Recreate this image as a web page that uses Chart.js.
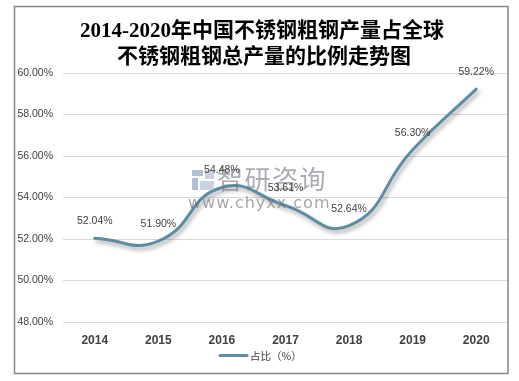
<!DOCTYPE html>
<html>
<head>
<meta charset="utf-8">
<script src="https://cdn.jsdelivr.net/npm/chart.js@4"></script>
<style>
html,body{margin:0;padding:0;background:#fff;}
#wrap{position:relative;width:519px;height:381px;}
</style>
</head>
<body>
<div id="wrap"><canvas id="c" width="519" height="381"></canvas></div>
<script>
const categories = ['2014','2015','2016','2017','2018','2019','2020'];
const shareValues = [52.04, 51.90, 54.48, 53.61, 52.64, 56.30, 59.22];
const seriesName = '占比（%）';
const titleLines = ['2014-2020年中国不锈钢粗钢产量占全球', '不锈钢粗钢总产量的比例走势图'];
const yMin = 48, yMax = 60, yStep = 2;

const lineColor = '#5b8da5';
const textColor = '#404040';

const shadowPlugin = {
  id: 'shadow',
  beforeDatasetDraw(chart) {
    const ctx = chart.ctx;
    ctx.save();
    ctx.shadowColor = 'rgba(0,0,0,0.35)';
    ctx.shadowBlur = 4;
    ctx.shadowOffsetX = 2;
    ctx.shadowOffsetY = 3;
  },
  afterDatasetDraw(chart) {
    chart.ctx.restore();
  }
};

const decorPlugin = {
  id: 'decor',
  afterDraw(chart) {
    const ctx = chart.ctx;
    ctx.save();
    // watermark
    ctx.globalAlpha = 0.6;
    ctx.fillStyle = '#7f95b8';
    ctx.fillRect(192, 170, 11, 6);
    ctx.fillRect(192, 178, 6, 12);
    ctx.fillStyle = '#a3b4cc';
    ctx.fillRect(205, 170, 9, 9);
    ctx.fillRect(200, 181, 14, 9);
    ctx.fillStyle = '#6f7780';
    ctx.font = '26px "Noto Sans CJK SC"';
    ctx.textBaseline = 'middle';
    ctx.textAlign = 'left';
    ctx.letterSpacing = '1.5px';
    ctx.fillText('智研咨询', 217, 179);
    ctx.fillStyle = '#6a6a6a';
    ctx.font = '16px "DejaVu Sans"';
    ctx.letterSpacing = '1px';
    ctx.fillText('www.chyxx.com', 188, 204);
    ctx.letterSpacing = '0px';
    ctx.globalAlpha = 1;

    // data labels
    const meta = chart.getDatasetMeta(0);
    ctx.fillStyle = textColor;
    ctx.font = '10.5px "Liberation Sans"';
    ctx.textAlign = 'center';
    ctx.textBaseline = 'middle';
    meta.data.forEach((pt, i) => {
      ctx.fillText(shareValues[i].toFixed(2) + '%', pt.x, pt.y - 17);
    });

    // title
    ctx.fillStyle = '#000';
    ctx.font = 'bold 21px "Liberation Serif", "Noto Sans CJK SC"';
    ctx.fillText(titleLines[0], 262, 32);
    ctx.fillText(titleLines[1], 264, 58);

    // legend
    ctx.strokeStyle = lineColor;
    ctx.lineWidth = 3;
    ctx.lineCap = 'round';
    ctx.beginPath();
    ctx.moveTo(220, 355.5);
    ctx.lineTo(247, 355.5);
    ctx.stroke();
    ctx.fillStyle = textColor;
    ctx.font = '10.5px "Noto Sans CJK SC"';
    ctx.textAlign = 'left';
    ctx.fillText(seriesName, 250, 356);

    // frame
    ctx.strokeStyle = '#868686';
    ctx.lineWidth = 1.5;
    ctx.lineCap = 'butt';
    ctx.strokeRect(14.5, 6.5, 493.5, 367);
    ctx.restore();
  }
};

new Chart(document.getElementById('c'), {
  type: 'line',
  data: {
    labels: categories,
    datasets: [{
      label: seriesName,
      data: shareValues,
      borderColor: lineColor,
      backgroundColor: lineColor,
      borderWidth: 3,
      pointRadius: 0,
      tension: 0.5,
      borderCapStyle: 'round',
      fill: false
    }]
  },
  options: {
    responsive: false,
    animation: false,
    devicePixelRatio: 1,
    layout: { padding: { left: 0, right: 11, top: 73, bottom: 0 } },
    plugins: {
      legend: { display: false },
      title: { display: false },
      tooltip: { enabled: false }
    },
    scales: {
      x: {
        offset: true,
        grid: { display: false, drawTicks: false },
        border: { display: false },
        ticks: {
          color: textColor,
          font: { family: 'Liberation Sans', size: 12, weight: 'bold' },
          padding: 11,
          maxRotation: 0
        },
        afterFit(scale) { scale.height = 59; }
      },
      y: {
        min: yMin,
        max: yMax,
        grid: { color: '#d9d9d9', drawTicks: false, lineWidth: 1 },
        border: { display: false },
        ticks: {
          stepSize: yStep,
          color: textColor,
          font: { family: 'Liberation Sans', size: 10.5 },
          padding: 10,
          callback: v => v.toFixed(2) + '%'
        },
        afterFit(scale) { scale.width = 63; }
      }
    }
  },
  plugins: [shadowPlugin, decorPlugin]
});
</script>
</body>
</html>
